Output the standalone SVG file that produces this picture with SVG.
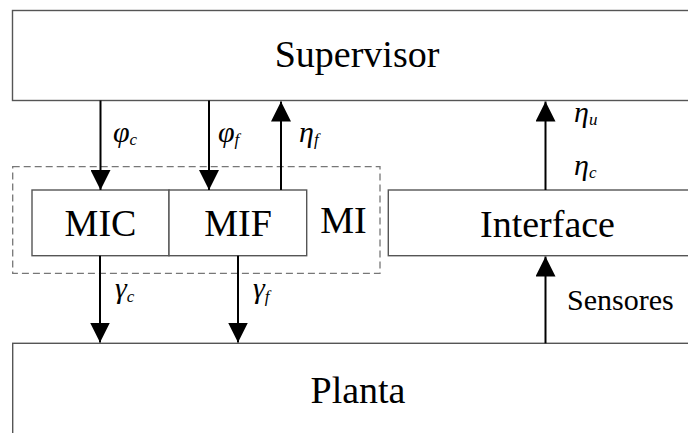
<svg xmlns="http://www.w3.org/2000/svg" width="688" height="433" viewBox="0 0 688 433">
  <defs>
    <style>
      .box { fill: #ffffff; stroke: #555555; stroke-width: 1.4; }
      .dash { fill: none; stroke: #777777; stroke-width: 1.3; stroke-dasharray: 7 4; }
      .wire { fill: none; stroke: #000000; stroke-width: 2; marker-end: url(#ah); }
      .big { font-family: 'Liberation Serif', 'Times New Roman', serif; font-size: 38px; fill: #000; }
      .mid { font-family: 'Liberation Serif', 'Times New Roman', serif; font-size: 30px; fill: #000; }
      .sym { font-family: 'Liberation Serif', 'Times New Roman', serif; font-style: italic; font-size: 30px; fill: #000; }
      .sym tspan { font-size: 17px; }
    </style>
    <marker id="ah" markerUnits="userSpaceOnUse" markerWidth="20" markerHeight="20" viewBox="0 0 20 20" refX="20" refY="10" orient="auto">
      <path d="M0,0 L20,10 L0,20 Z" fill="#000"/>
    </marker>
  </defs>
  <rect width="688" height="433" fill="#ffffff"/>

  <g id="supervisor">
    <rect class="box" x="12.5" y="10.5" width="700" height="90"/>
    <text class="big" x="357" y="67" text-anchor="middle">Supervisor</text>
  </g>

  <g id="mi">
    <rect class="dash" x="12.7" y="166.7" width="367.3" height="106.6"/>
    <text class="big" x="343.5" y="232.7" text-anchor="middle">MI</text>
  </g>

  <g id="mic">
    <rect class="box" x="32" y="190" width="137" height="65.7"/>
    <text class="big" x="100.5" y="235.7" text-anchor="middle">MIC</text>
  </g>

  <g id="mif">
    <rect class="box" x="169" y="190" width="137.7" height="65.7"/>
    <text class="big" x="238" y="235.7" text-anchor="middle">MIF</text>
  </g>

  <g id="interface">
    <rect class="box" x="388.3" y="190" width="320" height="65.7"/>
    <text class="big" x="547.5" y="236.7" text-anchor="middle">Interface</text>
  </g>

  <g id="planta">
    <rect class="box" x="12.7" y="343.3" width="700" height="100"/>
    <text class="big" x="358" y="402.7" text-anchor="middle">Planta</text>
  </g>

  <g id="connectors">
    <path class="wire" d="M100.5,100.5 L100.5,190"/>
    <path class="wire" d="M209,100.5 L209,190"/>
    <path class="wire" d="M281,190 L281,101.5"/>
    <path class="wire" d="M545.5,190 L545.5,101.5"/>
    <path class="wire" d="M100,255.7 L100,342.5"/>
    <path class="wire" d="M238,255.7 L238,342.5"/>
    <path class="wire" d="M545.5,343.3 L545.5,256.5"/>
  </g>

  <!-- signal labels: italic greek symbol with a smaller subscript -->
  <g id="labels">
    <text class="sym" x="113" y="142">φ<tspan dy="3">c</tspan></text>
    <text class="sym" x="218" y="142">φ<tspan dy="3">f</tspan></text>
    <text class="sym" x="299" y="142">η<tspan dy="3">f</tspan></text>
    <text class="sym" x="574" y="122">η<tspan dy="3">u</tspan></text>
    <text class="sym" x="574" y="175">η<tspan dy="3">c</tspan></text>
    <text class="sym" x="115" y="298">γ<tspan dy="3.5">c</tspan></text>
    <text class="sym" x="253" y="298">γ<tspan dy="3.5">f</tspan></text>
    <text class="mid" x="567" y="310">Sensores</text>
  </g>
</svg>
